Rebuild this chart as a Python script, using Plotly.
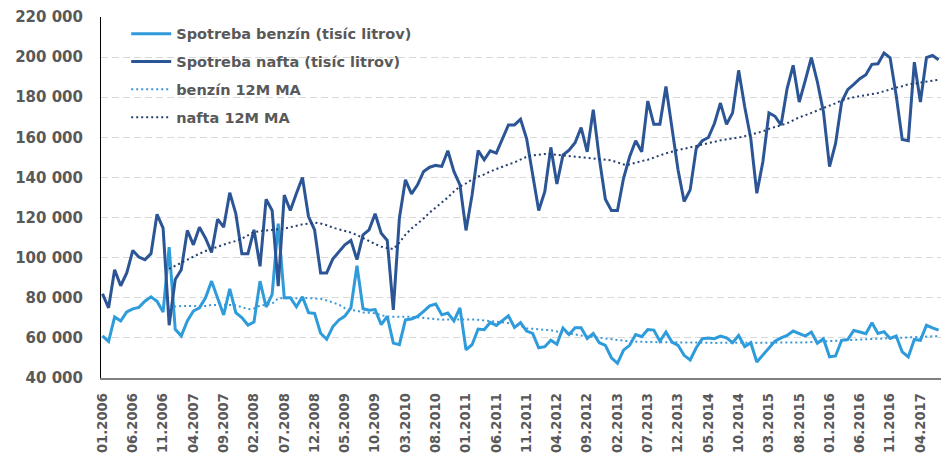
import plotly.graph_objects as go

# Monthly categories 01.2006 - 07.2017
months = [f"{m:02d}.{y}" for y in range(2006, 2018) for m in range(1, 13)][:139]

benzin = [
    61000, 58200, 70400, 68400, 72900, 74500, 75200, 78300, 80500, 78300, 72900, 105300,
    64300, 61000, 68400, 73400, 75000, 80000, 88300, 80000, 71400, 84500, 72600, 70100,
    66400, 67900, 88300, 75400, 81700, 117000, 80000, 80000, 75500, 80500, 72600, 72200,
    62300, 59300, 65500, 68900, 70900, 75000, 96000, 74500, 73800, 74100, 66600, 70700,
    57400, 56600, 69000, 69400, 70700, 73200, 76000, 76900, 71500, 72400, 68500, 74900,
    54100, 56600, 64400, 64100, 67700, 66200, 68700, 71000, 65200, 67600, 63400, 62200,
    55100, 55600, 58800, 56800, 64900, 61700, 65000, 65000, 59700, 62200, 57600, 56300,
    50100, 47300, 53900, 56300, 61700, 60600, 64200, 63900, 58400, 62900, 57900, 56300,
    51300, 49000, 55100, 59600, 60000, 59600, 60900, 60000, 57600, 61200, 55600, 57600,
    48000, 51300, 55100, 58400, 60000, 61200, 63400, 62000, 60900, 62900, 57300, 59600,
    50600, 51000, 58800, 59200, 63700, 62900, 62100, 67500, 62200, 63100, 59700, 60900,
    53000, 50500, 59200, 58800, 66300, 65000, 63900,
]

nafta = [
    82000, 75000, 94000, 86000, 92400, 103600, 100300, 99000, 102000, 121600, 114700, 66300,
    89100, 94000, 113600, 106400, 115200, 109700, 102600, 119200, 115200, 132400, 122000, 102000,
    102000, 113900, 95700, 129100, 123500, 85800, 131200, 123500, 132000, 140000, 120500, 113900,
    92400, 92400, 99300, 103100, 106400, 108600, 99000, 111400, 113900, 121900, 112200, 108600,
    74000, 119700, 138800, 131800, 136300, 143000, 145100, 146000, 145500, 153300, 143000, 136300,
    113600, 131300, 153400, 148800, 153300, 152100, 158700, 166200, 166200, 169000, 159400, 140400,
    123500, 132900, 155000, 136700, 151100, 153600, 157300, 164900, 152800, 173800, 149500, 129100,
    123500, 123500, 139600, 150300, 158300, 152800, 178100, 166500, 166500, 185400, 163200, 143700,
    128000, 133800, 154500, 158300, 159900, 166900, 177100, 166500, 172200, 193400, 175200, 159400,
    132100, 147800, 172200, 170500, 166100, 184300, 195900, 177600, 188400, 199700, 187600, 172700,
    145400, 157000, 177600, 183800, 186400, 189200, 191200, 196400, 196700, 202000, 199700, 181000,
    158900, 158300, 197500, 177600, 199700, 200800, 198700,
]

benzin_ma = [None] * 11 + [
    75400,
    75700, 75900, 75900, 75800, 75800, 75900, 76400, 76600, 76500, 76400, 76300, 75300,
    74300, 74600, 76200, 76400, 77000, 79700, 79700, 79700, 79900, 80000, 79900, 79600,
    79500, 78700, 77700, 76600, 74800, 73800, 73600, 72700, 72500, 72300, 71300, 70700,
    70500, 70600, 70700, 70500, 70300, 69900, 69600, 69300, 69100, 69100, 69200, 69400,
    69300, 69200, 69000, 68700, 68500, 68100, 67800, 67400, 66600, 66000, 64800, 64500,
    64300, 64200, 63800, 63200, 62600, 62200, 61700, 61200, 60800, 60300, 59900, 59600,
    59300, 58900, 58600, 58300, 58100, 58000, 57900, 57900, 57900, 57900, 57800, 57800,
    57700, 57700, 57600, 57600, 57600, 57500, 57500, 57500, 57400, 57400, 57400, 57400,
    57400, 57500, 57500, 57500, 57500, 57500, 57500, 57500, 57700, 57900, 58100, 58300,
    58400, 58500, 58700, 58900, 59000, 59200, 59300, 59500, 59600, 59800, 59900, 60000,
    60100, 60200, 60400, 60500, 60700, 60800, 60900,
]

nafta_ma = [None] * 11 + [
    94400,
    96000, 97500, 99000, 100500, 102000, 103300, 104500, 105500, 106500, 107500, 108300, 109500,
    111000, 112800, 113200, 113500, 113700, 113900, 114500, 115200, 116000, 116600, 117000, 117500,
    117000, 116200, 115000, 114200, 113500, 112500, 111300, 110000, 108300, 106800, 105500, 104800,
    104300, 107500, 111500, 114500, 117000, 119500, 122500, 125000, 127500, 130000, 133000, 135500,
    137000, 139000, 140500, 141500, 143000, 144300, 145500, 146500, 147500, 149000, 150300, 151000,
    151500, 151700, 151600, 151300, 151100, 150800, 150500, 150300, 150000, 149700, 149400, 149000,
    148500, 147500, 146500, 146500, 147500, 148200, 148800, 150000, 151000, 152000, 153000, 153700,
    154300, 155000, 156000, 156700, 157300, 157800, 158500, 159000, 159400, 159900, 160600, 161300,
    162000, 163000, 164200, 165200, 166200, 167000, 168500, 170000, 171000, 172200, 173300, 174500,
    175500, 177000, 178500, 179300, 180000, 180500, 181000, 181600, 182100, 183000, 184000, 184800,
    185500, 186400, 186800, 187300, 187700, 188200, 188700,
]

y_ticks = list(range(40000, 220001, 20000))
y_ticktext = [f"{v:,}".replace(",", " ") for v in y_ticks]

fig = go.Figure()
fig.add_trace(go.Scatter(x=months, y=benzin, name="Spotreba benzín (tisíc litrov)", mode="lines",
                         line=dict(color="#2E9BDA", width=3), legendgroup="g1"))
fig.add_trace(go.Scatter(x=months, y=nafta, name="Spotreba nafta (tisíc litrov)", mode="lines",
                         line=dict(color="#2C5596", width=3), legendgroup="g2"))
fig.add_trace(go.Scatter(x=months, y=benzin_ma, name="benzín 12M MA", mode="lines",
                         line=dict(color="#3B97D8", width=2, dash="2px,3px"), legendgroup="g3"))
fig.add_trace(go.Scatter(x=months, y=nafta_ma, name="nafta 12M MA", mode="lines",
                         line=dict(color="#243E70", width=2, dash="2px,3px"), legendgroup="g4"))

fig.update_layout(
    width=941, height=454,
    margin=dict(l=101, r=0, t=17, b=76, autoexpand=False),
    plot_bgcolor="white", paper_bgcolor="white",
    font=dict(family="DejaVu Sans", weight="bold", color="#595959"),
    showlegend=True,
    legend=dict(x=0.03, y=0.998, xanchor="left", yanchor="top",
                font=dict(size=14.5, color="#595959", family="DejaVu Sans", weight="bold"),
                bgcolor="rgba(0,0,0,0)", tracegroupgap=6, traceorder="grouped", itemwidth=40),
)
fig.update_xaxes(type="category", range=[-0.25, 138.4], tickmode="array", tickvals=months[::5],
                 tickangle=-90, tickfont=dict(size=13.2), showgrid=False, showline=True,
                 linecolor="#808080", linewidth=1.5, ticks="", ticklabelstandoff=8,
                 automargin=False)
fig.update_yaxes(range=[40000, 220000], tickmode="array", tickvals=y_ticks, ticktext=y_ticktext,
                 showgrid=True, gridcolor="#d9d9d9", griddash="7px,4px", gridwidth=1,
                 showline=True, linecolor="#000000", linewidth=1, zeroline=False,
                 tickfont=dict(size=15), ticks="", ticklabelstandoff=14, automargin=False)

fig.write_html(
    "out.html",
    config={"displayModeBar": False},
    post_script="document.body.style.margin='0';document.body.style.overflow='hidden';",
)
